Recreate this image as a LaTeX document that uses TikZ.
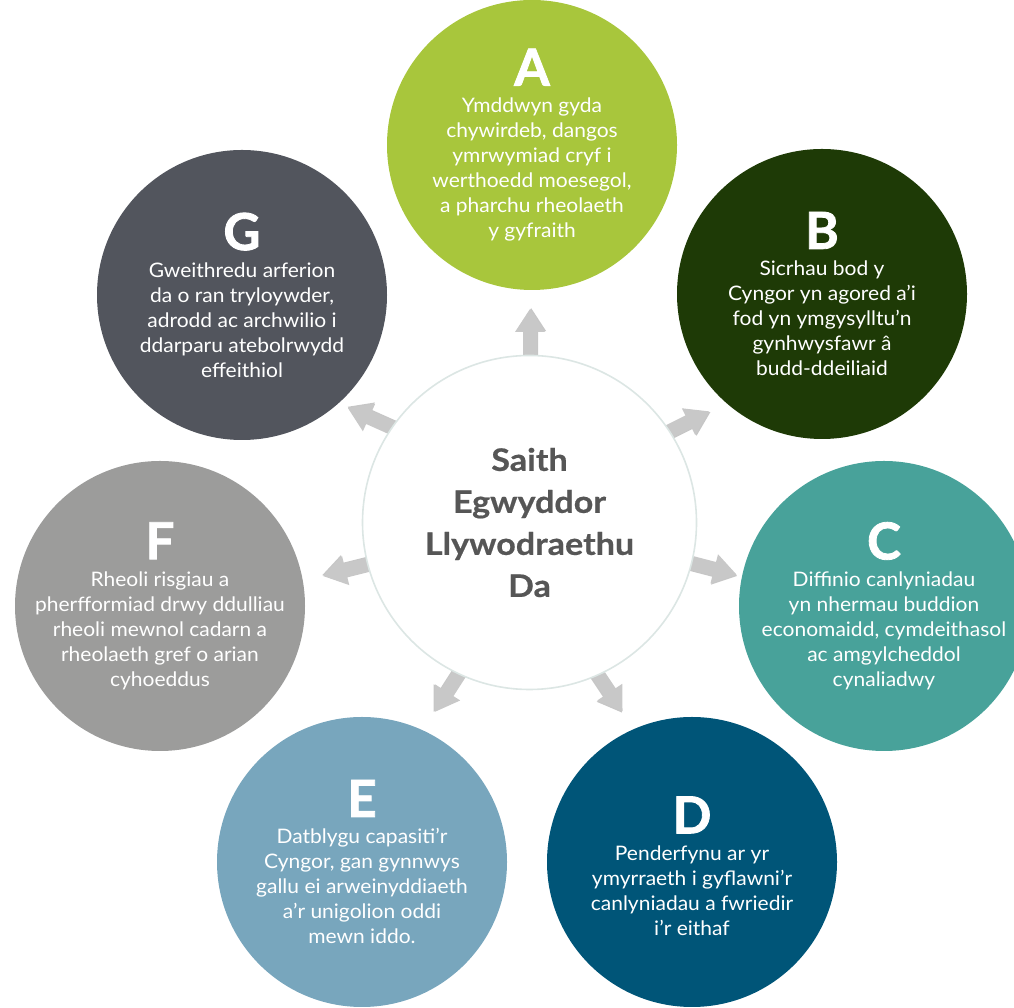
\documentclass[tikz,border=0pt]{standalone}
\usepackage{fontspec}
\setmainfont{Lato}[FakeStretch=1.05]
\newfontfamily\heavyfont{Lato}[FakeBold=1.6]
\newfontfamily\titlefont{Lato}[FakeStretch=1.1, FakeBold=0.6]
\definecolor{colA}{HTML}{A8C63C}
\definecolor{colB}{HTML}{1E3A06}
\definecolor{colC}{HTML}{48A29A}
\definecolor{colD}{HTML}{005578}
\definecolor{colE}{HTML}{78A6BD}
\definecolor{colF}{HTML}{9C9C9B}
\definecolor{colG}{HTML}{52555D}
\definecolor{midtext}{HTML}{565656}
\definecolor{ringline}{HTML}{DCE6E4}
\definecolor{arrowgray}{HTML}{C8C8C8}
\definecolor{arrowshade}{HTML}{8E8E8E}
\newcommand\bigletter[1]{{\fontsize{51}{51}\selectfont\heavyfont\bfseries #1}\\[2pt]}
\tikzset{
  outer/.style={circle, minimum size=290pt, inner sep=0pt, draw=none},
  body/.style={align=center, text=white, font=\fontsize{20}{25}\selectfont, inner sep=0pt},
  hub/.style={circle, minimum size=334pt, inner sep=0pt, fill=white, draw=ringline, line width=1.6pt},
  hubtext/.style={align=center, text=midtext, font=\fontsize{31}{42}\selectfont\titlefont\bfseries},
  blockarrow/.pic={
    \fill[arrowshade, opacity=0.5, shift={(0.8,-1.2)}] (-8,-7) -- (23,-7) -- (23,-15) -- (46,0) -- (23,15) -- (23,7) -- (-8,7) -- cycle;
    \fill[arrowgray] (-8,-7) -- (23,-7) -- (23,-15) -- (46,0) -- (23,15) -- (23,7) -- (-8,7) -- cycle;
  }
}
\begin{document}
\begin{tikzpicture}[x=1pt,y=1pt]
\useasboundingbox (0,0) rectangle (1014,1008);
% outer circles
\node[outer, fill=colA] (A) at (532,863) {};
\node[outer, fill=colB] (B) at (822,714) {};
\node[outer, fill=colC] (C) at (884,402) {};
\node[outer, fill=colD] (D) at (692,146) {};
\node[outer, fill=colE] (E) at (362,146) {};
\node[outer, fill=colF] (F) at (160,402) {};
\node[outer, fill=colG] (G) at (242,713) {};
% texts
\node[body] (tA) at (A.center) {\bigletter{A}Ymddwyn gyda\\chywirdeb, dangos\\ymrwymiad cryf i\\werthoedd moesegol,\\a pharchu rheolaeth\\y gyfraith};
\node[body] (tB) at (B.center) {\bigletter{B}Sicrhau bod y\\Cyngor yn agored a’i\\fod yn ymgysylltu’n\\gynhwysfawr â\\budd-ddeiliaid};
\node[body] (tC) at (C.center) {\bigletter{C}Diffinio canlyniadau\\yn nhermau buddion\\economaidd, cymdeithasol\\ac amgylcheddol\\cynaliadwy};
\node[body] (tD) at ([yshift=-4]D.center) {\bigletter{D}Penderfynu ar yr\\ymyrraeth i gyflawni’r\\canlyniadau a fwriedir\\i’r eithaf};
\node[body] (tE) at (E.center) {\bigletter{E}Datblygu capasiti’r\\Cyngor, gan gynnwys\\gallu ei arweinyddiaeth\\a’r unigolion oddi\\mewn iddo.};
\node[body] (tF) at (F.center) {\bigletter{F}Rheoli risgiau a\\pherfformiad drwy ddulliau\\rheoli mewnol cadarn a\\rheolaeth gref o arian\\cyhoeddus};
\node[body] (tG) at (G.center) {\bigletter{G}Gweithredu arferion\\da o ran tryloywder,\\adrodd ac archwilio i\\ddarparu atebolrwydd\\effeithiol};
% arrows
\coordinate (hubc) at (529.5,485.5);
\pic[rotate=90] at (530,653) {blockarrow};
\pic[rotate=26.6] at (668,576) {blockarrow};
\pic[rotate=-14.6] at (692,445) {blockarrow};
\pic[rotate=-56.3] at (597,335) {blockarrow};
\pic[rotate=-122.7] at (460,335) {blockarrow};
\pic[rotate=194] at (368,443) {blockarrow};
\pic[rotate=155.9] at (390,581) {blockarrow};
% hub
\node[hub] (hub) at (hubc) {};
\node[hubtext] (title) at (hub.center) {Saith\\Egwyddor\\Llywodraethu\\Da};
\end{tikzpicture}
\end{document}
